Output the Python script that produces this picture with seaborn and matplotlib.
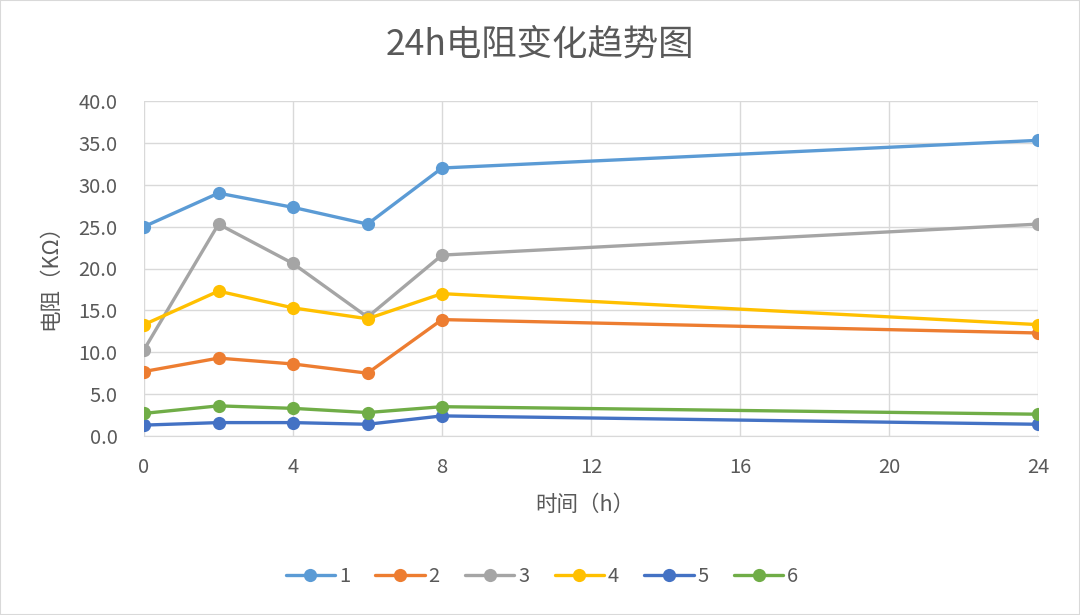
import matplotlib
matplotlib.use("Agg")
import matplotlib.pyplot as plt
import seaborn as sns
import pandas as pd

time_h = [0, 2, 4, 6, 8, 24]
s1 = [25.0, 29.0, 27.3, 25.3, 32.0, 35.3]
s2 = [7.7, 9.3, 8.6, 7.5, 13.9, 12.3]
s3 = [10.3, 25.3, 20.6, 14.2, 21.6, 25.3]
s4 = [13.3, 17.3, 15.3, 14.0, 17.0, 13.3]
s5 = [1.3, 1.6, 1.6, 1.4, 2.4, 1.4]
s6 = [2.7, 3.6, 3.3, 2.8, 3.5, 2.6]
series_names = ["1", "2", "3", "4", "5", "6"]
colors = ["#5B9BD5", "#ED7D31", "#A5A5A5", "#FFC000", "#4472C4", "#70AD47"]
x_ticks = [0, 4, 8, 12, 16, 20, 24]
y_ticks = [0, 5, 10, 15, 20, 25, 30, 35, 40]

rows = []
for name, vals in zip(series_names, [s1, s2, s3, s4, s5, s6]):
    for t, v in zip(time_h, vals):
        rows.append({"time": t, "value": v, "series": name})
df = pd.DataFrame(rows)

sns.set_style("white")
plt.rcParams['font.family'] = ['Noto Sans CJK SC', 'DejaVu Sans']
text_color = "#595959"

fig = plt.figure(figsize=(10.8, 6.15), dpi=100)
ax = fig.add_axes([144/1080, 1-436/615, (1038-144)/1080, (436-101)/615])

sns.lineplot(data=df, x="time", y="value", hue="series", palette=colors,
             marker="o", markersize=9.5, markeredgewidth=0, linewidth=2.4,
             ax=ax, legend=True)

ax.set_xlim(0, 24)
ax.set_ylim(0, 40)
ax.set_xticks(x_ticks)
ax.set_yticks(y_ticks)
ax.set_yticklabels([f"{v:.1f}" for v in y_ticks])
ax.grid(True, color="#D9D9D9", linewidth=1)
ax.set_axisbelow(True)
for sp in ["top", "right", "left"]:
    ax.spines[sp].set_visible(False)
ax.spines["bottom"].set_color("#D9D9D9")
ax.tick_params(axis="both", length=0, labelsize=14.5, colors=text_color)
ax.tick_params(axis="y", pad=19)
ax.tick_params(axis="x", pad=15)

ax.set_xlabel("")
ax.set_ylabel("")
fig.text(585/1080, 1-505/615, "时间（h）", ha="center", va="center",
         fontsize=15.5, color=text_color)
fig.text(50/1080, 1-272/615, "电阻（KΩ）", ha="center", va="center",
         fontsize=15.5, color=text_color, rotation=90)

fig.text(540/1080, 1-45/615, "24h电阻变化趋势图", ha="center", va="center",
         fontsize=25.5, color=text_color)

handles, labels = ax.get_legend_handles_labels()
ax.get_legend().remove()
fig.legend(handles, labels, loc="center", bbox_to_anchor=(542/1080, 1-577/615),
           ncol=6, frameon=False, fontsize=14.5, handlelength=2.45,
           columnspacing=1.25, handletextpad=0.2, labelcolor=text_color)

fig.patches.append(plt.Rectangle((0, 0), 1, 1, transform=fig.transFigure,
                                 fill=False, edgecolor="#D9D9D9", linewidth=1.5))

fig.savefig("out.png", dpi=100, facecolor="white")
